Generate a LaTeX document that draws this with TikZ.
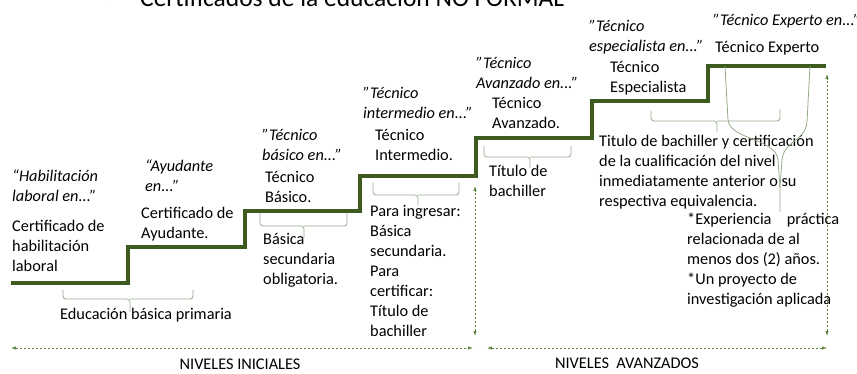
\documentclass[tikz,border=0pt]{standalone}
\usepackage{fontspec}
\setmainfont{Carlito}
\usetikzlibrary{arrows.meta}
\definecolor{stair}{RGB}{61,90,31}
\definecolor{brc}{RGB}{150,170,140}
\definecolor{dim}{RGB}{95,130,65}
\begin{document}
\begin{tikzpicture}[x=1pt,y=-1pt,
    txt/.style={anchor=north west,inner sep=0pt,align=left,font=\fontsize{16.3}{20}\selectfont,execute at begin node=\rule{0pt}{13pt}},
    itx/.style={txt,font=\fontsize{16.3}{20}\selectfont\itshape},
    brcline/.style={draw=brc,line width=0.8pt,rounded corners=3pt},
    dimarr/.style={draw=dim,line width=0.7pt,dash pattern=on 2.5pt off 1.5pt,{Latex[length=5pt,width=3.5pt]}-{Latex[length=5pt,width=3.5pt]}}]
        \clip (0,0) rectangle (857,374);
        % title
        \node[anchor=base,inner sep=0pt,text=gray!60,font=\fontsize{18}{20}\selectfont] (bul) at (109,3) {•};
        \node[anchor=base west,inner sep=0pt,font=\fontsize{25.5}{30}\selectfont] (title) at (140,7) {Certificados de la educación NO FORMAL};
        % stairs
        \draw[stair,line width=4pt] (11,283) -| (128,247) -| (245,211) -| (360,176) -| (476,138) -| (592,101) -| (708,66) -- (826,66);
        % certificates
        \begin{scope}[every node/.style={itx}]
        \node (hab) at (12,170) {“Habilitación\\laboral en..."};
        \node (ayu) at (145,160) {“Ayudante\\en..."};
        \node (bas) at (262,129) {"Técnico\\básico en..."};
        \node (inter) at (363,87) {"Técnico\\intermedio en..."};
        \node (avz) at (476,57) {"Técnico\\Avanzado en..."};
        \node (esp) at (589,20) {"Técnico\\especialista en..."};
        \node (expt) at (713,12) {"Técnico Experto en..."};
        \end{scope}
        \begin{scope}[every node/.style={txt}]
        \node (habc) at (12,220) {Certificado de\\habilitación\\laboral};
        \node (ayuc) at (141,207) {Certificado de\\Ayudante.};
        \node (basc) at (265,171) {Técnico\\Básico.};
        \node (interc) at (375,129) {Técnico\\Intermedio.};
        \node (avzc) at (492,97) {Técnico\\Avanzado.};
        \node (espc) at (610,61) {Técnico\\Especialista};
        \node (exptc) at (715,39) {Técnico Experto};
        % requirements
        \node (prim) at (60,306) {Educación básica primaria};
        \node (sec) at (263,233) {Básica\\secundaria\\obligatoria.};
        \node (ingr) at (370,205) {Para ingresar:\\Básica\\secundaria.\\Para\\certificar:\\Título de\\bachiller};
        \node (tit) at (489,165) {Título de\\bachiller};
        \node (cual) at (599,135) {Titulo de bachiller y certificación\\de la cualificación del nivel\\inmediatamente anterior o su\\respectiva equivalencia.};
        \node (prac) at (687,213) {\makebox[152pt][l]{*Experiencia\hfill práctica}\\relacionada de al\\menos dos (2) años.\\*Un proyecto de\\investigación aplicada};
        \end{scope}
        % braces
        \draw[brcline] (63,290) |- (130,299) -- (130,312);
        \draw[brcline] (130,299) -| (193,290);
        \draw[brcline] (260,213) |- (304,226) -- (304,238);
        \draw[brcline] (304,226) -| (347,213);
        \draw[brcline] (373,183) |- (418,195) -- (418,205);
        \draw[brcline] (418,195) -| (459,183);
        \draw[brcline] (484,146) |- (530,157) -- (530,168);
        \draw[brcline] (530,157) -| (571,146);
        \draw[brcline] (651,111) |- (717,121) -- (717,132);
        \draw[brcline] (717,121) -| (780,109);
        \draw[draw=brc,line width=0.8pt] (725,66) -- (728,120) .. controls (730,140) and (776,138) .. (778,160) -- (780,188) -- (780,212);
        \draw[draw=brc,line width=0.8pt] (810,66) -- (807,122) .. controls (805,142) and (784,140) .. (782,160) -- (780,188);
        % levels
        \coordinate (ini-l) at (11,348);
        \coordinate (ini-r) at (473,348);
        \coordinate (ava-l) at (487,348);
        \coordinate (ava-r) at (827,348);
        \coordinate (ini-b) at (475,336);
        \coordinate (ini-t) at (475,186);
        \coordinate (ava-b) at (827,336);
        \coordinate (ava-t) at (827,74);
        \path (ini-l) edge[dimarr] (ini-r)
              (ava-l) edge[dimarr] (ava-r)
              (ini-b) edge[dimarr] (ini-t)
              (ava-b) edge[dimarr] (ava-t);
        \node[anchor=base,inner sep=0pt,font=\fontsize{16.3}{19}\selectfont] (inic) at (240,369) {NIVELES INICIALES};
        \node[anchor=base,inner sep=0pt,font=\fontsize{16.3}{19}\selectfont] (avan) at (627,368) {NIVELES\ \ AVANZADOS};
        \end{tikzpicture}
\end{document}
